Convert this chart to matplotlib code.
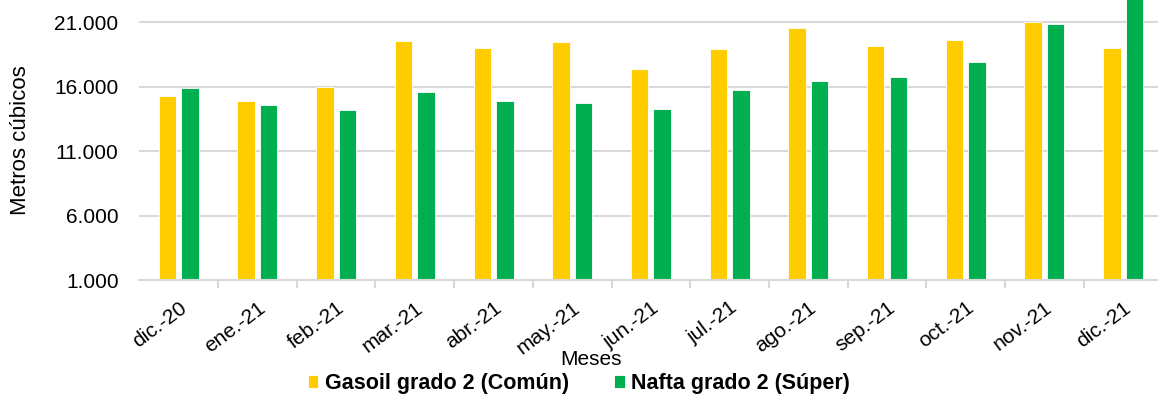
import matplotlib
matplotlib.use('Agg')
import matplotlib.pyplot as plt
import numpy as np
from matplotlib.ticker import FuncFormatter

plt.rcParams['font.family'] = ['Liberation Sans', 'DejaVu Sans']

meses = ['dic.-20', 'ene.-21', 'feb.-21', 'mar.-21', 'abr.-21', 'may.-21', 'jun.-21',
         'jul.-21', 'ago.-21', 'sep.-21', 'oct.-21', 'nov.-21', 'dic.-21']
gasoil = [15250, 14915, 16000, 19520, 18980, 19420, 17350,
          18930, 20510, 19135, 19600, 20975, 18980]
nafta = [15850, 14550, 14160, 15615, 14915, 14760, 14240,
         15740, 16440, 16730, 17890, 20845, 23500]
series_names = ['Gasoil grado 2 (Común)', 'Nafta grado 2 (Súper)']
yticks = [1000, 6000, 11000, 16000, 21000]

c_yellow = '#FFCC00'
c_green = '#00B050'
c_grid = '#D9D9D9'
fs = 15

fig = plt.figure(figsize=(11.58, 4.01), dpi=100)
# axes runs a little past the right edge, like the cropped original
ax = fig.add_axes([0.1204, 0.3017, 0.8834, 0.6983])

x = np.arange(len(meses))
w = 0.222
off = 0.143
ax.bar(x - off, gasoil, width=w, color=c_yellow, edgecolor='white',
       linewidth=0.6, label=series_names[0], zorder=3)
ax.bar(x + off, nafta, width=w, color=c_green, edgecolor='white',
       linewidth=0.6, label=series_names[1], zorder=3)

ax.set_ylim(1000, 22710)
ax.set_xlim(-0.5, len(meses) - 0.5)
ax.set_yticks(yticks)
ax.yaxis.set_major_formatter(FuncFormatter(lambda v, p: f"{int(v):,}".replace(',', '.')))
ax.yaxis.grid(True, color=c_grid, linewidth=1.5, zorder=0)
ax.tick_params(axis='y', length=0, labelsize=fs, pad=15)

ax.set_xticks(x)
ax.set_xticklabels(meses, rotation=37, ha='right', rotation_mode='anchor', fontsize=fs)
ax.set_xticks(np.arange(0.5, len(meses) - 1, 1), minor=True)
ax.tick_params(axis='x', which='major', length=0, pad=13)
ax.tick_params(axis='x', which='minor', length=6, width=1.5, color=c_grid)

for s in ['top', 'right', 'left']:
    ax.spines[s].set_visible(False)
ax.spines['bottom'].set_color(c_grid)
ax.spines['bottom'].set_linewidth(1.5)
ax.spines['bottom'].set_zorder(4)

ax.set_ylabel('Metros cúbicos', fontsize=16)
ax.yaxis.set_label_coords(-0.106, 0.5)
ax.set_xlabel('Meses', fontsize=fs)
ax.xaxis.set_label_coords(0.441, -0.25)

fig.legend(loc='center', bbox_to_anchor=(0.5, 0.043), ncol=2, frameon=False,
           prop={'weight': 'bold', 'size': 15.5}, handlelength=0.5, handleheight=0.5,
           handletextpad=0.3, columnspacing=2.1)

plt.savefig('out.png', dpi=100)
